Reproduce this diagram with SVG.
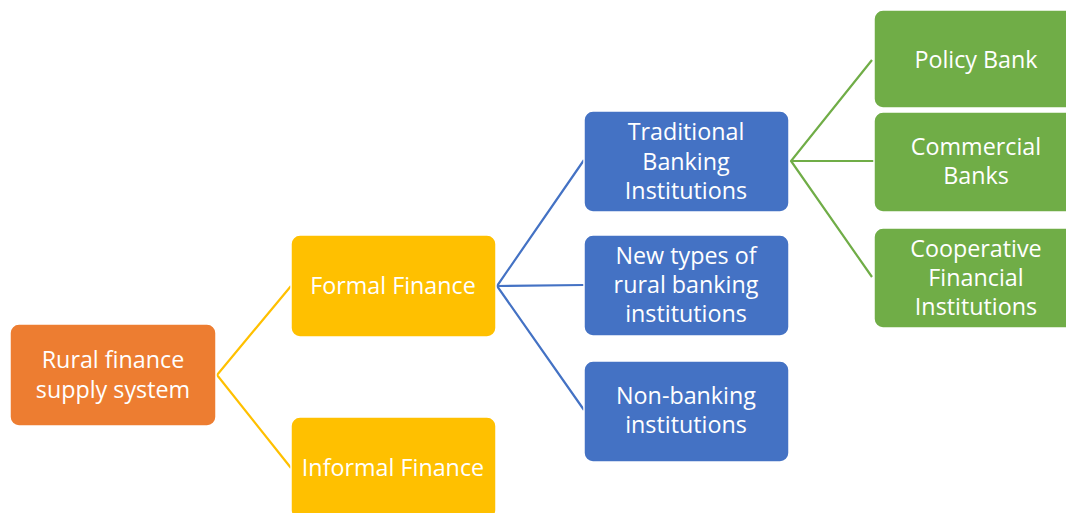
<svg xmlns="http://www.w3.org/2000/svg" width="1066" height="513" viewBox="0 0 1066 513">
<style>
.box{stroke:#ffffff;stroke-width:1.5}
.t{font-family:"Open Sans","Liberation Sans",sans-serif;font-size:23.3px;fill:#ffffff;text-anchor:middle}
.c{fill:none;stroke-width:2.2}
</style>
<rect width="1066" height="513" fill="#ffffff"/>
<g id="connectors">
<polyline class="c" stroke="#FFC000" points="291,286 217,375 291,468"/>
<polyline class="c" stroke="#4472C4" points="584,160 497,286 584,410"/>
<line class="c" stroke="#4472C4" x1="497" y1="286" x2="584" y2="285"/>
<polyline class="c" stroke="#70AD47" points="872,60 791,161 872,277"/>
<line class="c" stroke="#70AD47" x1="791" y1="161" x2="874" y2="161"/>
</g>
<g id="rural">
<rect class="box" x="10" y="324" width="206" height="102" rx="9" fill="#ED7D31"/>
<text class="t" x="113" y="368">Rural finance</text>
<text class="t" x="113" y="398">supply system</text>
</g>
<g id="formal">
<rect class="box" x="291" y="235" width="205" height="102" rx="9" fill="#FFC000"/>
<text class="t" x="393" y="294">Formal Finance</text>
</g>
<g id="informal">
<rect class="box" x="291" y="417" width="205" height="102" rx="9" fill="#FFC000"/>
<text class="t" x="393" y="476">Informal Finance</text>
</g>
<g id="traditional">
<rect class="box" x="584" y="111" width="205" height="101" rx="9" fill="#4472C4"/>
<text class="t" x="686" y="140">Traditional</text>
<text class="t" x="686" y="170">Banking</text>
<text class="t" x="686" y="199">Institutions</text>
</g>
<g id="newtypes">
<rect class="box" x="584" y="235" width="205" height="101" rx="9" fill="#4472C4"/>
<text class="t" x="686" y="264">New types of</text>
<text class="t" x="686" y="293">rural banking</text>
<text class="t" x="686" y="322">institutions</text>
</g>
<g id="nonbanking">
<rect class="box" x="584" y="361" width="205" height="101" rx="9" fill="#4472C4"/>
<text class="t" x="686" y="404">Non-banking</text>
<text class="t" x="686" y="433">institutions</text>
</g>
<g id="policy">
<rect class="box" x="874" y="10" width="205" height="98" rx="9" fill="#70AD47"/>
<text class="t" x="976" y="68">Policy Bank</text>
</g>
<g id="commercial">
<rect class="box" x="874" y="112" width="205" height="100" rx="9" fill="#70AD47"/>
<text class="t" x="976" y="155">Commercial</text>
<text class="t" x="976" y="184">Banks</text>
</g>
<g id="cooperative">
<rect class="box" x="874" y="228" width="205" height="100" rx="9" fill="#70AD47"/>
<text class="t" x="976" y="257">Cooperative</text>
<text class="t" x="976" y="286">Financial</text>
<text class="t" x="976" y="315">Institutions</text>
</g>
</svg>
